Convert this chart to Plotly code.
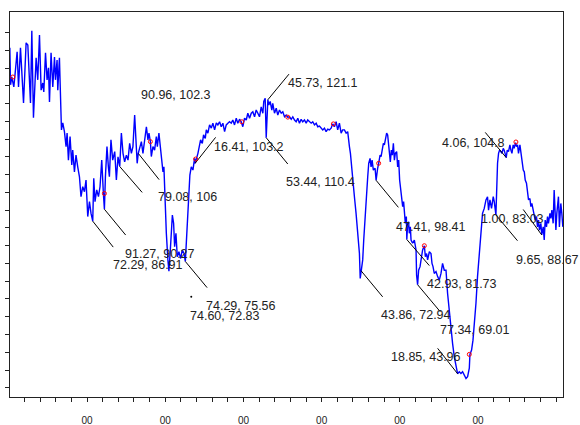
import plotly.graph_objects as go

# Sampled signal (x in samples, y in signal units)
sig_x = [1.3, 2.2, 3.8, 6.4, 8.1, 10.6, 12.4, 14.9, 18.8, 22.1, 24.3, 27.7, 29.4, 31.5, 34.9, 37.0, 39.2, 41.3, 43.4, 44.7,
         46.9, 48.9, 50.7, 52.0, 54.0, 56.2, 58.4, 59.6, 61.7, 62.6, 64.7, 66.4, 67.3, 69.0, 71.1, 73.2, 74.5, 76.2, 78.3, 80.5,
         81.7, 83.9, 85.9, 88.1, 90.3, 92.3, 94.5, 96.7, 98.7, 100.9, 103.1, 105.1, 107.3, 108.6, 110.2, 112.4, 114.6, 116.6, 118.8, 120.9,
         122.2, 123.5, 125.5, 127.3, 128.6, 130.6, 132.8,
         135.4, 137.5, 139.6, 141.8, 143.9, 146.0, 148.1, 150.3, 152.4, 154.5, 156.7, 158.7, 160.9, 163.1, 164.1, 165.5, 167.3, 169.5,
         171.5, 173.7, 175.9, 177.9, 179.2, 181.0, 182.2, 184.3, 186.4, 188.6, 189.9, 191.9, 194.1, 196.3, 197.1, 198.3, 199.2, 201.4,
         203.4, 204.7, 206.5, 207.8, 209.1, 210.7, 212.0, 213.7, 215.4, 217.5, 219.7, 221.8, 223.9, 225.7, 226.9, 228.2, 229.9, 231.5,
         233.3, 235.4, 237.5, 238.2, 241.8, 243.9, 245.2, 247.4, 249.0, 251.2, 252.5, 254.5, 256.7, 258.9, 260.9, 263.1, 265.3, 267.3,
         269.5, 271.6, 273.7, 275.9, 278.0, 280.1,
         282.2, 284.4, 286.4, 288.6, 290.8, 292.8, 295.0, 297.2, 299.2, 301.4, 303.6, 305.6, 307.8, 310.0, 312.0, 314.2, 316.3, 318.4,
         320.5, 322.7, 324.8, 326.0, 327.8, 329.1, 330.4, 331.2, 332.4, 334.2, 336.3, 337.5, 339.7, 341.9, 343.9, 346.1, 348.3, 350.3,
         352.5, 354.7, 356.7, 358.9, 361.1, 363.1, 365.3, 367.4, 369.5, 371.6, 373.8, 375.8, 378.0, 380.2, 382.2, 384.4, 386.6, 388.6,
         390.8, 393.0, 395.0, 397.2, 399.4, 401.4, 403.6, 405.7, 407.8, 409.9, 412.1, 414.1, 416.3, 418.5, 420.5, 422.7, 424.9, 426.9,
         429.1, 431.3, 433.3, 434.2, 435.5, 436.8, 438.4, 439.7, 441.9, 444.0, 446.1, 448.3, 449.3, 450.4, 451.7, 452.5, 453.8, 455.6,
         457.2, 458.9, 460.2, 461.9, 463.2, 464.5, 466.1, 468.3, 469.6, 470.4, 471.6, 472.9, 474.7, 476.0, 477.2, 478.9, 480.2, 481.5,
         483.1, 484.4, 485.7, 486.6, 487.8, 489.1, 490.4, 491.7, 493.0, 494.2, 495.9, 497.2, 498.5, 499.7, 501.5, 502.8, 503.6, 504.8,
         505.7, 507.0, 508.3, 508.9, 510.0, 511.2, 512.1, 513.4, 514.3, 516.3, 518.5, 520.7, 521.4, 522.7, 524.0, 525.8, 527.1, 529.1,
         531.3, 532.6, 534.2, 535.5, 537.7, 539.8, 541.1, 542.4, 544.0, 546.2, 548.3, 550.4, 552.6, 554.6, 556.8, 559.0, 561.0, 563.2,
         565.4, 567.4, 569.6, 571.8, 573.8,
         576.0, 578.1, 580.2, 582.4, 584.6, 586.6, 588.8, 589.6, 591.7, 593.5, 595.1, 597.3, 599.3, 601.5, 603.7, 605.7, 607.9, 610.1,
         612.1, 613.4, 615.2, 617.2, 619.4, 620.7, 622.8, 623.6, 624.9, 626.2, 627.5, 629.2, 630.5, 632.2, 633.4, 636.0, 637.3, 638.9,
         640.7, 642.0, 643.3, 644.9, 646.2, 647.9, 649.2, 650.5, 651.7, 653.5, 654.8, 656.1, 657.8, 659.1, 660.3, 661.9, 663.2, 664.5,
         666.3, 667.5, 668.8, 670.5, 671.8, 673.0, 674.7, 676.0, 677.3, 678.5, 680.3, 681.4, 683.3, 684.6, 685.8, 687.5, 688.8, 690.0,
         691.9, 693.1, 694.4, 696.0, 697.3, 698.6, 699.5, 700.7, 702.8, 704.0, 705.8, 707.1, 708.4]
sig_y = [135.7, 125.3, 127.5, 124.7, 128.6, 134.6, 124.7, 135.7, 120.2, 137.1, 136.5, 120.2, 140.5, 116.0, 132.9, 126.7, 139.3, 123.8, 125.8, 123.3,
         134.3, 126.7, 130.1, 120.5, 134.3, 124.7, 133.1, 126.7, 132.3, 123.8, 132.9, 121.0, 112.6, 114.6, 112.1, 107.9, 111.7, 104.1, 110.7, 102.7,
         106.9, 100.8, 105.5, 102.2, 99.4, 93.8, 96.6, 95.2, 98.5, 88.2, 92.4, 89.1, 86.91, 99.0, 92.4, 95.7, 93.8, 96.6, 104.1, 94.7,
         90.27, 99.4, 107.9, 102.2, 99.4, 109.8, 104.1,
         106.5, 98.5, 105.0, 102.3, 111.7, 106.0, 103.6, 105.5, 104.1, 108.8, 106.0, 107.9, 116.8, 107.5, 103.2, 106.0, 107.9, 109.3,
         106.0, 110.7, 113.5, 109.8, 111.7, 109.3, 105.1, 107.9, 106.9, 110.7, 107.9, 111.7, 106.9, 102.2, 100.8, 102.2, 95.7, 83.5,
         76.0, 72.83, 78.8, 83.5, 88.6, 86.3, 79.7, 83.5, 76.9, 78.3, 76.4, 78.8, 77.9, 75.56, 81.1, 88.2, 95.7, 99.9,
         102.2, 101.3, 104.6, 103.2, 106.0, 107.9, 109.8, 108.8, 111.2, 110.2, 112.6, 111.7, 114.0, 113.1, 114.5, 112.6, 114.6, 114.0,
         114.9, 113.5, 114.5, 112.1, 114.0, 114.5,
         114.9, 114.5, 115.4, 114.0, 115.9, 114.5, 115.6, 114.9, 113.5, 115.9, 115.4, 117.3, 115.9, 117.3, 117.7, 116.3, 118.2, 117.3,
         116.3, 119.1, 117.3, 120.6, 121.5, 110.4, 121.0, 121.1, 119.6, 120.6, 118.2, 120.1, 117.3, 118.7, 116.8, 118.2, 117.3, 117.7,
         116.3, 116.8, 116.2, 116.3, 115.6, 116.3, 115.4, 114.9, 115.9, 114.5, 115.6, 114.9, 115.4, 114.5, 115.4, 114.9, 114.5, 114.9,
         114.0, 114.5, 113.5, 113.7, 113.1, 112.6, 113.1, 112.1, 112.8, 112.6, 113.1, 114.3, 113.5, 114.9, 112.6, 114.5, 111.7, 112.6,
         112.6, 111.7, 112.1, 109.8, 107.9, 106.0, 101.3, 98.5, 93.8, 89.1, 84.4, 77.8, 70.8, 72.94, 74.1, 76.0, 81.6, 89.1,
         93.8, 99.4, 103.2, 104.6, 102.2, 104.1, 101.3, 101.8, 98.41, 100.4, 101.8, 103.2, 105.5, 105.1, 106.9, 108.8, 108.4, 110.2,
         111.7, 111.2, 108.8, 106.9, 103.6, 106.9, 105.5, 108.8, 104.1, 106.0, 106.5, 102.2, 104.1, 98.5, 94.7, 91.9, 91.0, 92.4,
         89.1, 86.3, 88.2, 81.73, 86.3, 86.7, 83.5, 85.3, 81.6, 80.7, 81.6, 78.8, 71.7, 69.01, 73.1, 74.1, 76.0, 78.8,
         80.0, 76.9, 77.8, 76.0, 78.3, 77.8, 75.0, 74.1, 72.2, 72.7, 71.3, 70.3, 72.2, 75.0, 73.1, 73.1, 66.6, 60.9,
         56.2, 52.5, 48.7, 45.9, 43.96,
         44.5, 44.0, 44.5, 43.6, 42.6, 43.1, 45.5, 49.4, 50.6, 53.4, 57.2, 63.8, 71.3, 77.8, 84.4, 89.1, 90.5, 92.9,
         93.8, 90.0, 92.9, 90.5, 93.8, 92.4, 88.67, 98.5, 103.2, 106.0, 106.9, 106.5, 106.0, 107.4, 106.9, 104.8, 106.9, 106.5,
         108.4, 106.9, 106.0, 108.4, 107.4, 109.0, 107.9, 108.4, 106.0, 108.4, 106.0, 103.2, 101.3, 100.8, 98.5, 97.6, 95.7, 92.9,
         93.3, 91.0, 91.9, 90.0, 89.6, 87.2, 88.2, 85.3, 87.2, 84.4, 86.3, 83.03, 85.3, 81.6, 87.2, 85.3, 88.2, 86.3,
         89.1, 87.7, 90.0, 86.3, 95.7, 87.2, 84.4, 89.1, 93.8, 85.3, 91.9, 89.1, 85.3]

# Highlighted samples (red circles)
mark_x = [5.1, 122.2, 181.0, 238.8, 297.9, 356.7, 415.0, 472.9, 531.3, 588.8, 648.4]
mark_y = [127.5, 94.7, 109.3, 104.4, 114.9, 116.2, 114.3, 103.2, 80.0, 49.4, 109.2]

# Data-point labels: text, the sample each one refers to, its leader tail and text anchor
label_text = ["72.29, 86.91", "91.27, 90.27", "90.96, 102.3", "79.08, 106", "74.29, 75.56",
              "74.60, 72.83", "16.41, 103.2", "45.73, 121.1", "53.44, 110.4", "43.86, 72.94",
              "47.41, 98.41", "42.93, 81.73", "77.34, 69.01", "18.85, 43.96", "4.06, 104.8",
              "9.65, 88.67", "1.00, 83.03"]
point_x = [107.3, 122.2, 141.8, 165.5, 225.7, 204.7, 238.2, 331.2, 329.1, 450.4,
           469.6, 508.9, 522.7, 573.8, 636.0, 622.8, 681.4]
tail_x = [133.5, 149.4, 170.5, 192.2, 253.5, None, 264.4, 358.2, 356.7, 478.0,
          498.1, 537.7, 551.7, 548.3, 609.2, 650.4, 657.7]
tail_y = [79.6, 83.0, 95.0, 98.6, 68.2, None, 110.5, 128.3, 103.0, 65.6,
          90.8, 74.4, 61.4, 51.1, 111.9, 81.4, 90.2]
text_x = [131.0, 145.9, 166.4, 188.4, 249.1, 228.7, 260.0, 354.5, 352.3, 473.6,
          492.8, 532.0, 548.2, 486.4, 551.5, 646.0, 600.6]
text_y = [74.5, 77.8, 122.4, 93.6, 63.0, 60.2, 107.7, 125.8, 98.0, 60.5,
          85.3, 69.1, 56.4, 48.6, 109.0, 76.0, 87.5]
dot_x = [233.3]
dot_y = [65.6]

# y value of each labelled sample, taken from its label
point_y = [float(t.split(", ")[1]) for t in label_text]

x_ticks = list(range(20, 701, 20))
x_tick_text = ["00" if (v % 100 == 0 and v < 700) else "" for v in x_ticks]
y_ticks = list(range(40, 141, 5))

FONT = "Liberation Sans, Arial, sans-serif"

fig = go.Figure()

fig.add_trace(go.Scatter(x=sig_x, y=sig_y, mode="lines",
                         line=dict(color="#0000ff", width=1.4), hoverinfo="skip"))

lx, ly = [], []
for px_, py_, tx, ty in zip(point_x, point_y, tail_x, tail_y):
    if tx is None:
        continue
    lx += [px_, tx, None]
    ly += [py_, ty, None]
fig.add_trace(go.Scatter(x=lx, y=ly, mode="lines",
                         line=dict(color="black", width=1), hoverinfo="skip"))

fig.add_trace(go.Scatter(x=dot_x, y=dot_y, mode="markers",
                         marker=dict(color="black", size=2), hoverinfo="skip"))

fig.add_trace(go.Scatter(x=mark_x, y=mark_y, mode="markers",
                         marker=dict(symbol="circle-open", color="red", size=4,
                                     line=dict(width=1, color="red")),
                         hoverinfo="skip"))

for t, x, y in zip(label_text, text_x, text_y):
    fig.add_annotation(x=x, y=y, text=t, showarrow=False, xanchor="left", yanchor="middle",
                       font=dict(family=FONT, size=12.5, color="#222222"))

fig.update_layout(
    width=580, height=425,
    margin=dict(l=10, r=17, t=12, b=28),
    paper_bgcolor="white", plot_bgcolor="white",
    showlegend=False,
    font=dict(family=FONT, color="#222222"),
)
fig.update_xaxes(range=[1.5, 708.6], tickmode="array", tickvals=x_ticks, ticktext=x_tick_text,
                 ticks="outside", ticklen=4, tickcolor="#222222", tickwidth=1,
                 showline=True, linecolor="#222222", linewidth=1, mirror=True,
                 showgrid=False, zeroline=False, tickfont=dict(size=10),
                 ticklabelstandoff=10, automargin=False)
fig.update_yaxes(range=[37.4, 145.8], tickmode="array", tickvals=y_ticks,
                 ticks="outside", ticklen=4, tickcolor="#222222", tickwidth=1,
                 showline=True, linecolor="#222222", linewidth=1, mirror=True,
                 showgrid=False, zeroline=False, showticklabels=False, automargin=False)

fig.write_html("out.html")
